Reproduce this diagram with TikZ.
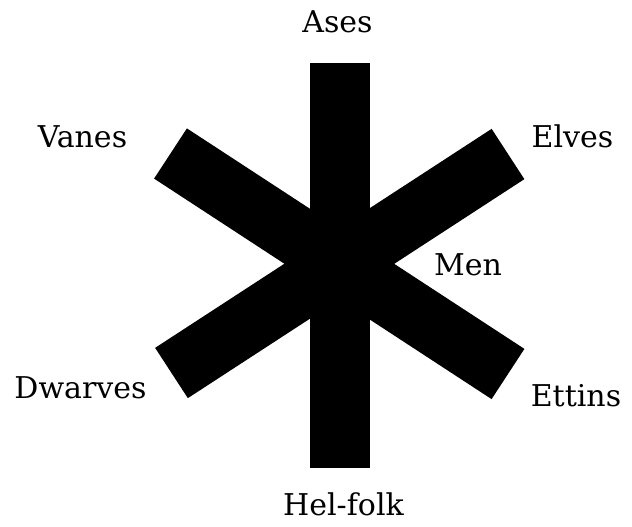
\documentclass[tikz,border=0pt]{standalone}
\usepackage{fontspec}
\setmainfont{DejaVu Serif}
\begin{document}
\begin{tikzpicture}[x=1pt,y=-1pt,
  bar/.style={line width=60pt,line cap=butt,draw=black},
  lbl/.style={anchor=base,inner sep=0pt,font=\fontsize{30pt}{36pt}\selectfont}]
\useasboundingbox[fill=white] (0,0) rectangle (632,527);
\coordinate (vt) at (340,63);
\coordinate (vb) at (340,468);
\coordinate (ul) at (170.5,153.5);
\coordinate (lr) at (508,374);
\coordinate (ur) at (508,154);
\coordinate (ll) at (171.5,373);
\draw[bar] (vt) -- (vb);
\draw[bar] (ul) -- (lr);
\draw[bar] (ur) -- (ll);
\node[lbl] (ases) at (337.5,33) {Ases};
\node[lbl] (vanes) at (82.5,147) {Vanes};
\node[lbl] (elves) at (572.5,147) {Elves};
\node[lbl] (men) at (468,275) {Men};
\node[lbl] (dwarves) at (80.5,398) {Dwarves};
\node[lbl] (ettins) at (576,406) {Ettins};
\node[lbl] (helfolk) at (343.5,515) {Hel-folk};
\end{tikzpicture}
\end{document}
